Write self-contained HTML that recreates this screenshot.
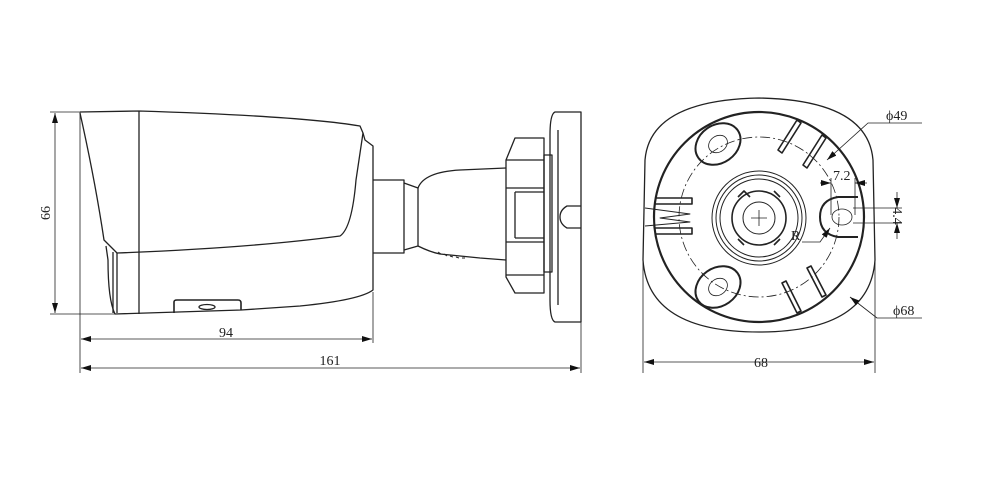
<!DOCTYPE html>
<html><head><meta charset="utf-8"><style>
html,body{margin:0;padding:0;background:#fff;}
svg{display:block;}
text{font-family:"Liberation Serif",serif;font-size:14px;fill:#222;}
</style></head><body>
<svg width="1000" height="483" viewBox="0 0 1000 483" xmlns="http://www.w3.org/2000/svg">
<defs>
<marker id="a" viewBox="0 0 10 6" refX="10" refY="3" markerWidth="10" markerHeight="6" orient="auto-start-reverse" markerUnits="userSpaceOnUse"><path d="M0,0 L10,3 L0,6 z" fill="#111"/></marker>
</defs>
<g fill="none" stroke="#222" stroke-width="1.3" stroke-linejoin="round">
<path d="M80,112 L139,111 Q300,116 360,126 L363,133 L365,140 L373,146 L373,290 Q360,300 300,306 L241,310 L115,314 Q108,300 108,260 L106,246"/>
<path d="M80,113 Q95,180 104,240 L117,253 Q250,248 340,236 Q352,228 356,180 L363,133"/>
<path d="M139,111 L139,314"/>
<path d="M113,252 L113,313 M117,253 L117,313"/>
<path d="M174,313 L174,302 Q174,300 177,300 L238,300 Q241,300 241,303 L241,310" stroke-width="1.6"/>
<ellipse cx="207" cy="307" rx="8" ry="2.5"/>
<path d="M373,180 L404,180 L404,253 L373,253"/>
<path d="M404,183 L418,188 Q424,172 460,170 L506,168"/>
<path d="M404,250 L418,246 Q430,252 440,254 L480,258 L506,260"/>
<path d="M418,188 L418,246"/>
<path d="M438,252 l3,2 m3,0 l3,2 m3,0 l3,1 m3,0 l3,1 m3,0 l3,0" stroke-width="1"/>
<path d="M515,138 L544,138 L544,293 L515,293 L506,277 L506,160 Z"/>
<path d="M506,160 L544,160 M506,188 L544,188 M515,192 L544,192 M515,192 L515,238 M515,238 L544,238 M506,242 L544,242 M506,275 L544,275"/>
<rect x="544" y="155" width="8" height="117"/>
<path d="M555,112 L581,112 L581,322 L555,322 Q550,320 550,300 L550,135 Q550,114 555,112 Z"/>
<path d="M558,130 L558,305"/>
<path d="M581,206 L567,206 Q560,210 560,217 Q560,224 567,228 L581,228"/>
<g stroke-width="0.8">
<path d="M50,112 L80,112 M50,314 L115,314 M80,112 L80,373 M373,292 L373,343 M581,322 L581,373"/>
<path d="M55,113 L55,313" marker-start="url(#a)" marker-end="url(#a)"/>
<path d="M81,339 L372,339" marker-start="url(#a)" marker-end="url(#a)"/>
<path d="M81,368 L580,368" marker-start="url(#a)" marker-end="url(#a)"/>
</g>
<path d="M645,160 Q650,100 759,98 Q868,100 873,160 L875,260 Q870,332 759,332 Q648,332 643,260 Z"/>
<circle cx="759" cy="217" r="105" stroke-width="2.2"/>
<circle cx="759" cy="217" r="80" stroke-width="0.8" stroke-dasharray="10,3,2,3"/>
<circle cx="759" cy="218" r="47" stroke-width="1"/>
<circle cx="759" cy="218" r="43" stroke-width="1"/>
<circle cx="759" cy="218" r="39" stroke-width="1"/>
<circle cx="759" cy="218" r="27" stroke-width="1.6"/>
<circle cx="759" cy="218" r="16" stroke-width="1"/>
<path d="M751,218 L767,218 M759,210 L759,226" stroke-width="0.8"/>
<path d="M738,197 l6,-6 l6,6 M774,191 l6,6 M738,239 l6,6 M774,245 l6,-6" stroke-width="1.6"/>
<ellipse cx="718" cy="144" rx="24" ry="19" transform="rotate(-35 718 144)" stroke-width="2"/>
<ellipse cx="718" cy="144" rx="10" ry="8" transform="rotate(-35 718 144)" stroke-width="0.8"/>
<ellipse cx="718" cy="287" rx="24" ry="19" transform="rotate(-35 718 287)" stroke-width="2"/>
<ellipse cx="718" cy="287" rx="10" ry="8" transform="rotate(-35 718 287)" stroke-width="0.8"/>
<path d="M858,197 L838,197 Q820,200 820,217 Q820,234 838,237 L858,237" stroke-width="2"/>
<ellipse cx="842" cy="217" rx="10" ry="8" stroke-width="0.8"/>
<path d="M778,150 L797,120 L801,123 L782,153 Z M803,165 L822,135 L826,138 L807,168 Z M782,283 L797,313 L801,311 L786,281 Z M807,268 L822,297 L826,295 L811,266 Z" stroke-width="1.6"/>
<path d="M655,198 L692,198 L692,204 L655,204 M655,228 L692,228 L692,234 L655,234" stroke-width="1.6"/>
<path d="M645,208 L690,214 L660,218 L690,222 L645,226" stroke-width="0.9"/>
<g stroke-width="0.8">
<path d="M643,260 L643,373 M875,260 L875,373"/>
<path d="M644,362 L874,362" marker-start="url(#a)" marker-end="url(#a)"/>
<path d="M922,123 L868,123 L827,160" marker-end="url(#a)"/>
<path d="M922,318 L877,318 L850,297" marker-end="url(#a)"/>
<path d="M831,178 L831,215 M855,178 L855,215"/>
<path d="M820,183 L831,183" marker-end="url(#a)"/>
<path d="M867,183 L855,183" marker-end="url(#a)"/>
<path d="M853,208 L902,208 M853,223 L902,223"/>
<path d="M897,192 L897,208" marker-end="url(#a)"/>
<path d="M897,239 L897,223" marker-end="url(#a)"/>
<path d="M802,242 L820,242 L830,228" marker-end="url(#a)"/>
</g>
</g>
<g stroke="none">
<text x="226" y="337" text-anchor="middle">94</text>
<text x="330" y="365" text-anchor="middle">161</text>
<text x="0" y="0" text-anchor="middle" transform="translate(50,213) rotate(-90)">66</text>
<text x="761" y="367" text-anchor="middle">68</text>
<text x="886" y="120">ϕ49</text>
<text x="893" y="315">ϕ68</text>
<text x="833" y="180">7.2</text>
<text x="0" y="0" text-anchor="middle" transform="translate(893,216) rotate(90)">4.4</text>
<text x="791" y="240">R</text>
</g>
</svg>
</body></html>
